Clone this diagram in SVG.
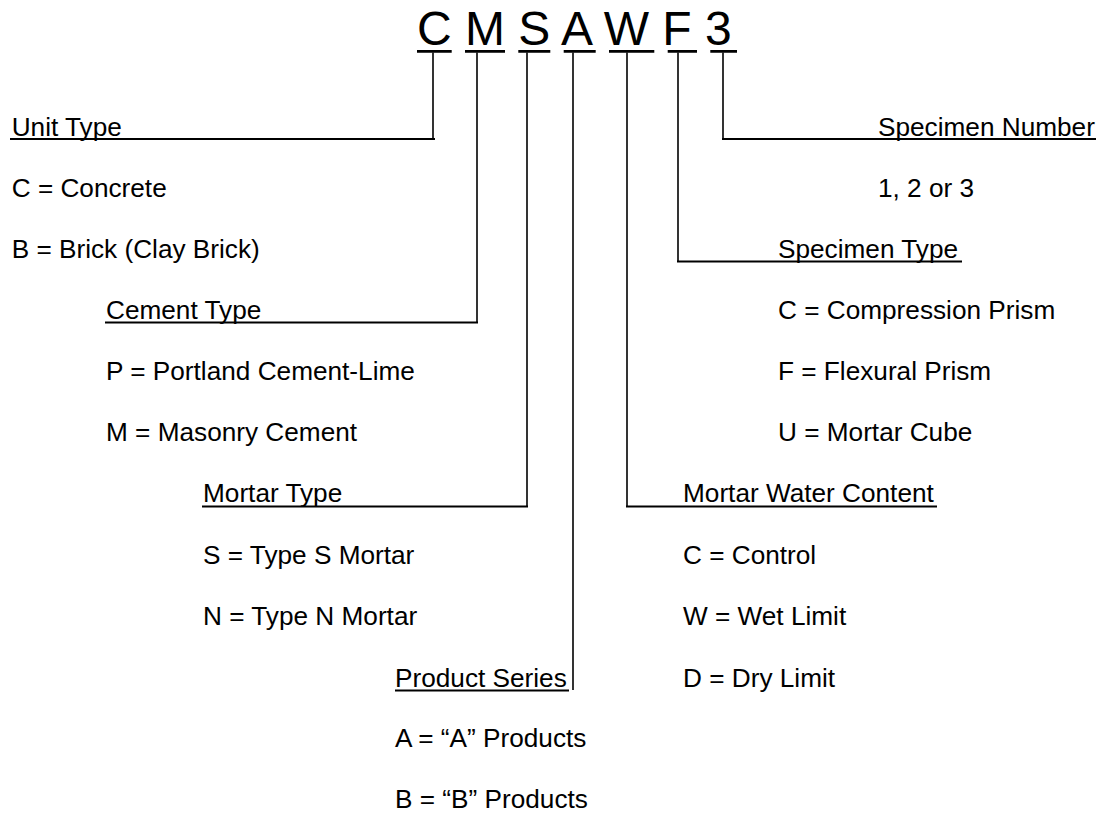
<svg xmlns="http://www.w3.org/2000/svg" width="1101" height="813" viewBox="0 0 1101 813">
<style>
.t{font-family:"Liberation Sans",Arial,sans-serif;font-size:26.2px;fill:#000}
.big{font-family:"Liberation Sans",Arial,sans-serif;font-size:48px;fill:#000}
.ul{stroke:#000;stroke-width:2.7;fill:none}
.c{stroke:#000;stroke-width:2;fill:none}
.v{stroke:#000;stroke-width:1.6;fill:none}
</style>
<rect width="1101" height="813" fill="#fff"/>
<g id="code">
<text class="big" x="417" y="45" xml:space="preserve">C M S A W F 3</text>
<path class="ul" d="M417 51.3H451.7M465 51.3H505M518.3 51.3H550.3M563.7 51.3H595.7M609 51.3H654.3M667.7 51.3H697M710.3 51.3H737"/>
</g>
<g id="connectors">
<path class="v" d="M433 52.5V139"/>
<path class="c" d="M435 139H10"/>
<path class="v" d="M477 52.5V322.5"/>
<path class="c" d="M478 322.5H105"/>
<path class="v" d="M527 52.5V506.5"/>
<path class="c" d="M528 506.5H202"/>
<path class="v" d="M573 52.5V690"/>
<path class="c" d="M569 690.5H395"/>
<path class="v" d="M627 52.5V506.5"/>
<path class="c" d="M626 506.5H937"/>
<path class="v" d="M678 52.5V261.5"/>
<path class="c" d="M677 261.5H962"/>
<path class="v" d="M723 52.5V139"/>
<path class="c" d="M722 139H1096"/>
</g>
<g id="unit-type">
<text class="t" x="11.7" y="135.8">Unit Type</text>
<text class="t" x="11.7" y="196.9">C = Concrete</text>
<text class="t" x="11.7" y="258">B = Brick (Clay Brick)</text>
</g>
<g id="cement-type">
<text class="t" x="106" y="319.1">Cement Type</text>
<text class="t" x="106" y="380.2">P = Portland Cement-Lime</text>
<text class="t" x="106" y="441.3">M = Masonry Cement</text>
</g>
<g id="mortar-type">
<text class="t" x="203" y="502.4">Mortar Type</text>
<text class="t" x="203" y="563.5">S = Type S Mortar</text>
<text class="t" x="203" y="624.6">N = Type N Mortar</text>
</g>
<g id="product-series">
<text class="t" x="395" y="686.7">Product Series</text>
<text class="t" x="395" y="746.8">A = “A” Products</text>
<text class="t" x="395" y="807.9">B = “B” Products</text>
</g>
<g id="mortar-water-content">
<text class="t" x="683" y="502.4">Mortar Water Content</text>
<text class="t" x="683" y="563.5">C = Control</text>
<text class="t" x="683" y="624.6">W = Wet Limit</text>
<text class="t" x="683" y="686.7">D = Dry Limit</text>
</g>
<g id="specimen-type">
<text class="t" x="778" y="258">Specimen Type</text>
<text class="t" x="778" y="319.1">C = Compression Prism</text>
<text class="t" x="778" y="380.2">F = Flexural Prism</text>
<text class="t" x="778" y="441.3">U = Mortar Cube</text>
</g>
<g id="specimen-number">
<text class="t" x="878" y="135.8">Specimen Number</text>
<text class="t" x="878" y="196.9">1, 2 or 3</text>
</g>
</svg>
